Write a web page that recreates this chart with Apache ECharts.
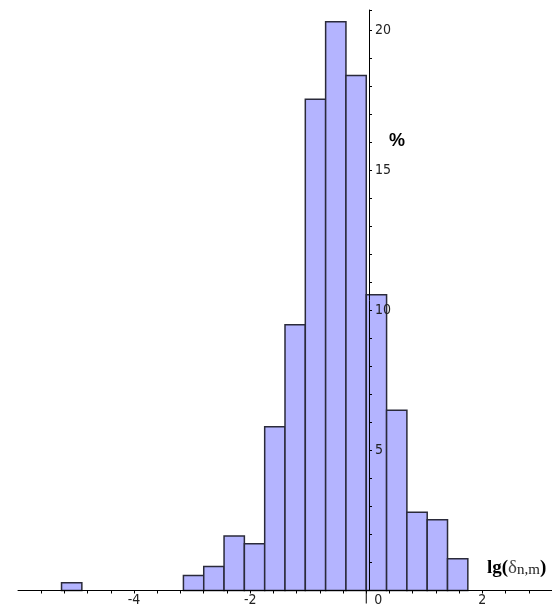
<!DOCTYPE html>
<html>
<head>
<meta charset="utf-8">
<script src="https://cdn.jsdelivr.net/npm/echarts@6/dist/echarts.min.js"></script>
<style>
  html, body { margin: 0; padding: 0; background: #fff; }
  #chart { width: 552px; height: 610px; }
</style>
</head>
<body>
<div id="chart"></div>
<script>
// Histogram of lg(delta_{n,m}): bin edges (width 0.35) and share of cases in %
const binLo = [-5.25, -3.15, -2.80, -2.45, -2.10, -1.75, -1.40, -1.05, -0.70, -0.35, 0.00, 0.35, 0.70, 1.05, 1.40];
const binHi = [-4.90, -2.80, -2.45, -2.10, -1.75, -1.40, -1.05, -0.70, -0.35, 0.00, 0.35, 0.70, 1.05, 1.40, 1.75];
const percent = [0.28, 0.54, 0.86, 1.95, 1.67, 5.85, 9.49, 17.54, 20.31, 18.39, 10.56, 6.44, 2.79, 2.53, 1.13];

// Labelled ticks on each axis
const xTickLabels = [-4, -2, 0, 2];
const yTickLabels = [5, 10, 15, 20];

// Plot frame: x runs over [X_MIN, X_MAX], y over [0, Y_MAX]
const X_MIN = -6.0, X_MAX = 3.2, Y_MAX = 20.73;
const GRID_LEFT = 18, GRID_TOP = 10, GRID_W = 538.2, GRID_H = 580.5;
// shift of the vertical axis from the grid's left edge to x = 0
const yAxisShift = (0 - X_MIN) / (X_MAX - X_MIN) * GRID_W;

const narrow = "'Liberation Sans Narrow', 'Arial Narrow', 'DejaVu Sans Condensed', sans-serif";
const isLabelled = (v, list) => list.some(t => Math.abs(v - t) < 1e-6);

const chart = echarts.init(document.getElementById('chart'), null, { renderer: 'canvas' });

chart.setOption({
  animation: false,
  backgroundColor: '#fff',
  grid: { left: GRID_LEFT, top: GRID_TOP, width: GRID_W, height: GRID_H, containLabel: false },
  xAxis: {
    type: 'value',
    min: X_MIN,
    max: X_MAX,
    interval: 0.4,
    z: 5,
    axisLine: { show: true, onZero: true, lineStyle: { color: '#000', width: 1 } },
    axisTick: { show: true, length: 3, lineStyle: { color: '#000' } },
    splitLine: { show: false },
    axisLabel: {
      margin: 3,
      fontFamily: narrow,
      fontSize: 14,
      color: '#222',
      showMinLabel: false,
      showMaxLabel: false,
      formatter: v => {
        if (!isLabelled(v, xTickLabels)) return '';
        if (Math.abs(v) < 1e-6) return '{z|0}';
        return String(Math.round(v));
      },
      rich: { z: { fontFamily: narrow, fontSize: 14, color: '#222', padding: [0, 0, 0, 24] } }
    }
  },
  yAxis: {
    type: 'value',
    position: 'left',
    offset: -yAxisShift,
    min: 0,
    max: Y_MAX,
    interval: 1,
    z: 5,
    axisLine: { show: true, onZero: false, lineStyle: { color: '#000', width: 1 } },
    axisTick: { show: true, inside: true, length: 3, lineStyle: { color: '#000' } },
    splitLine: { show: false },
    axisLabel: {
      inside: true,
      margin: 6,
      fontFamily: narrow,
      fontSize: 14,
      color: '#222',
      formatter: v => (isLabelled(v, yTickLabels) ? String(Math.round(v)) : '')
    }
  },
  series: [{
    type: 'custom',
    z: 2,
    data: binLo.map((lo, i) => [lo, binHi[i], percent[i]]),
    encode: { x: [0, 1], y: 2 },
    renderItem: (params, api) => {
      const base = api.coord([api.value(0), 0]);
      const top = api.coord([api.value(1), api.value(2)]);
      return {
        type: 'rect',
        shape: { x: base[0], y: top[1], width: top[0] - base[0], height: base[1] - top[1] },
        style: { fill: '#b4b4ff', stroke: '#2a2a3a', lineWidth: 1.5 }
      };
    }
  }]
});

// Vertical axis continues a little below the horizontal one; axis titles
const origin = chart.convertToPixel({ gridIndex: 0 }, [0, 0]);
chart.setOption({
  graphic: [
    {
      type: 'line',
      shape: { x1: origin[0], y1: origin[1], x2: origin[0], y2: origin[1] + 13 },
      style: { stroke: '#000', lineWidth: 1 },
      z: 10
    },
    {
      type: 'text',
      left: 389,
      top: 132,
      style: { text: '%', font: "bold 18px 'Liberation Sans', Arial, sans-serif", fill: '#000' },
      z: 10
    },
    {
      type: 'text',
      left: 487,
      top: 559,
      style: {
        text: '{b|lg(}{d|δ}{s|n,m}{b|)}',
        rich: {
          b: { fontFamily: "'Liberation Serif', 'Times New Roman', serif", fontWeight: 'bold', fontSize: 19, fill: '#000', verticalAlign: 'bottom' },
          d: { fontFamily: "'Liberation Serif', 'Times New Roman', serif", fontSize: 19, fill: '#444', verticalAlign: 'bottom' },
          s: { fontFamily: "'Liberation Serif', 'Times New Roman', serif", fontSize: 15, fill: '#222', verticalAlign: 'bottom' }
        }
      },
      z: 10
    }
  ]
});
</script>
</body>
</html>
